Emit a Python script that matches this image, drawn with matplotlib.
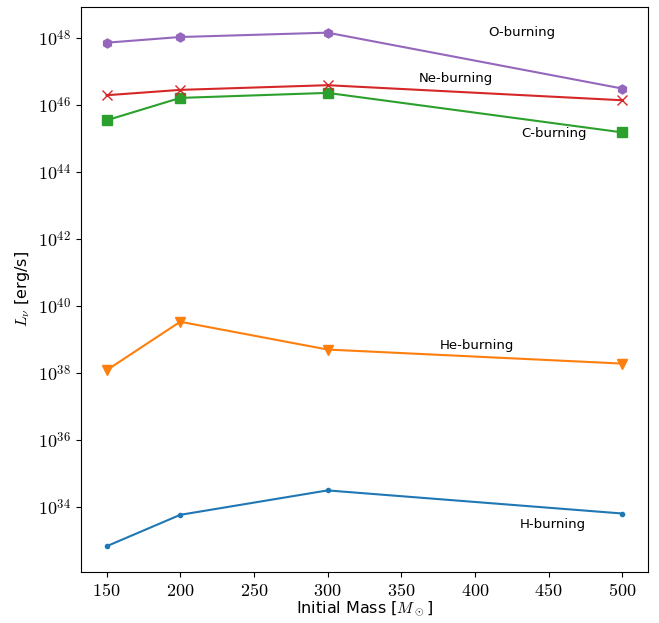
import numpy as np
import matplotlib
matplotlib.use("Agg")
import matplotlib.pyplot as plt
from matplotlib.ticker import FuncFormatter, NullLocator, FixedLocator

masses = [150, 200, 300, 500]
logL_H = [32.82, 33.76, 34.49, 33.80]
logL_He = [38.08, 39.53, 38.70, 38.28]
logL_C = [45.55, 46.22, 46.37, 45.19]
logL_Ne = [46.30, 46.46, 46.60, 46.15]
logL_O = [47.87, 48.04, 48.17, 46.50]

y_tick_exps = [34, 36, 38, 40, 42, 44, 46, 48]
x_ticks = [150, 200, 250, 300, 350, 400, 450, 500]

labels = ["H-burning", "He-burning", "C-burning", "Ne-burning", "O-burning"]
label_pos = [(453, 33.47), (401.5, 38.82), (453.7, 45.16), (387, 46.8), (432, 48.18)]

plt.rcParams['mathtext.fontset'] = 'cm'
plt.rcParams['font.family'] = ['DejaVu Sans']

fig = plt.figure(figsize=(6.59, 6.23), dpi=100)
ax = fig.add_axes([0.1225, 0.0819, 0.8608, 0.9069])

series = [logL_H, logL_He, logL_C, logL_Ne, logL_O]
markers = ['.', 'v', 's', 'x', 'h']
colors = ['C0', 'C1', 'C2', 'C3', 'C4']
for s, m, c in zip(series, markers, colors):
    ax.plot(masses, 10.0 ** np.array(s), marker=m, color=c, lw=1.5, ms=6.5 if m != '.' else 6)

ax.set_yscale('log')
ax.yaxis.set_major_locator(FixedLocator([10.0 ** e for e in y_tick_exps]))
ax.yaxis.set_minor_locator(NullLocator())
ax.yaxis.set_major_formatter(FuncFormatter(lambda v, p: r'$10^{%d}$' % int(round(np.log10(v)))))
ax.xaxis.set_major_locator(FixedLocator(x_ticks))
ax.xaxis.set_major_formatter(FuncFormatter(lambda v, p: r'$%d$' % v))
ax.tick_params(labelsize=13)

for lab, (x, y) in zip(labels, label_pos):
    ax.text(x, 10 ** y, lab, ha='center', va='center', fontsize=9.5)

ax.set_xlabel(r'Initial Mass [$M_\odot$]', fontsize=11.5, labelpad=0)
ax.set_ylabel(r'$L_\nu$ [erg/s]', fontsize=11.5, labelpad=4)

fig.savefig('out.png', dpi=100)
